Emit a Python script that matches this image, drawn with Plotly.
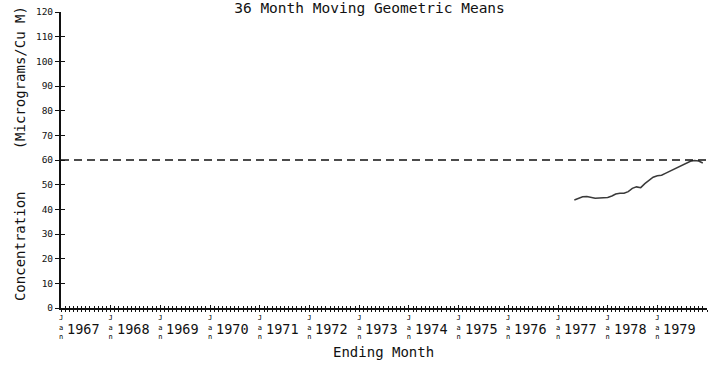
import plotly.graph_objects as go

# 36-month moving geometric mean concentrations, by ending month
MONTHS = [
    "1977-05-01", "1977-06-01", "1977-07-01", "1977-08-01", "1977-09-01", "1977-10-01",
    "1977-11-01", "1977-12-01", "1978-01-01", "1978-02-01", "1978-03-01", "1978-04-01",
    "1978-05-01", "1978-06-01", "1978-07-01", "1978-08-01", "1978-09-01", "1978-10-01",
    "1978-11-01", "1978-12-01", "1979-01-01", "1979-02-01", "1979-03-01", "1979-04-01",
    "1979-05-01", "1979-06-01", "1979-07-01", "1979-08-01", "1979-09-01", "1979-10-01",
    "1979-11-01", "1979-12-01",
]
GEO_MEANS = [
    43.8, 44.5, 45.1, 45.2, 44.8, 44.5,
    44.6, 44.7, 44.8, 45.4, 46.2, 46.5,
    46.5, 47.2, 48.5, 49.1, 48.8, 50.4,
    51.9, 53.0, 53.6, 53.8, 54.6, 55.4,
    56.2, 56.9, 57.8, 58.7, 59.5, 59.8,
    59.6, 58.8,
]
STANDARD = 60

YEARS = list(range(1967, 1980))
YEAR_TICKS = [f"{y}-01-01" for y in YEARS]
X_RANGE = ["1967-01-01", "1980-01-01"]
Y_RANGE = [0, 120]
Y_TICKS = list(range(0, 121, 10))

FONT = "DejaVu Sans Mono"
INK = "#111111"

fig = go.Figure()

fig.add_trace(go.Scatter(
    x=MONTHS, y=GEO_MEANS, mode="lines",
    line=dict(color="#3a3a3a", width=1.5),
    showlegend=False, hoverinfo="skip",
))
# invisible copy so the overlaid tick axes are drawn
fig.add_trace(go.Scatter(
    x=MONTHS, y=GEO_MEANS, mode="lines", xaxis="x2", yaxis="y2",
    line=dict(width=0), opacity=0, showlegend=False, hoverinfo="skip",
))

fig.add_hline(y=STANDARD, line=dict(color=INK, width=1.4, dash="8px,5px"))

fig.update_layout(
    width=715, height=367,
    margin=dict(l=61, r=8, t=6, b=59),
    paper_bgcolor="white", plot_bgcolor="white",
    font=dict(family=FONT, color=INK),
    title=dict(
        text="36 Month Moving Geometric Means",
        x=0.4776, xref="paper", xanchor="center",
        y=1 - 8 / 367, yref="container", yanchor="middle",
        font=dict(size=14.5, family=FONT, color=INK),
    ),
    xaxis=dict(
        type="date", range=X_RANGE, showgrid=False, zeroline=False,
        showline=True, linecolor=INK, linewidth=2,
        tickmode="array", tickvals=YEAR_TICKS,
        ticktext=["J<br>a<br>n"] * len(YEAR_TICKS),
        ticks="outside", ticklen=2, tickwidth=1.3, tickcolor=INK,
        tickfont=dict(size=7, family=FONT, color="#000000"),
        minor=dict(dtick="M1", tick0="1967-01-01", ticks="outside",
                   ticklen=2, tickwidth=1, tickcolor=INK),
    ),
    xaxis2=dict(
        type="date", overlaying="x", matches="x", anchor="y2",
        showgrid=False, zeroline=False, showline=False, showticklabels=False,
        tickmode="array", tickvals=YEAR_TICKS,
        ticks="inside", ticklen=3, tickwidth=1.3, tickcolor=INK,
        minor=dict(dtick="M1", tick0="1967-01-01", ticks="inside",
                   ticklen=2, tickwidth=1, tickcolor=INK),
    ),
    yaxis=dict(
        range=Y_RANGE, showgrid=False, zeroline=False,
        showline=True, linecolor=INK, linewidth=2,
        tickmode="array", tickvals=Y_TICKS,
        ticks="outside", ticklen=4, tickwidth=1.3, tickcolor=INK,
        tickfont=dict(size=9.5, family=FONT, color=INK),
    ),
    yaxis2=dict(
        range=Y_RANGE, overlaying="y", matches="y", anchor="x2", side="left",
        showgrid=False, zeroline=False, showline=False, showticklabels=False,
        tickmode="array", tickvals=Y_TICKS,
        ticks="inside", ticklen=4, tickwidth=1.3, tickcolor=INK,
    ),
)

# year labels beside each January tick
for y, tick in zip(YEARS, YEAR_TICKS):
    fig.add_annotation(
        x=tick, xref="x", y=-0.07, yref="paper",
        text=str(y), showarrow=False, xanchor="left", yanchor="middle",
        xshift=4, font=dict(size=13.5, family=FONT, color=INK),
    )

fig.add_annotation(
    x=0.5, xref="paper", y=-0.148, yref="paper",
    text="Ending Month", showarrow=False, xanchor="center", yanchor="middle",
    xshift=-1, font=dict(size=14, family=FONT, color=INK),
)

fig.add_annotation(
    x=0, xref="paper", y=0.52, yref="paper",
    text="Concentration\u00a0\u00a0\u00a0\u00a0\u00a0(Micrograms/Cu\u00a0M)",
    textangle=-90, showarrow=False, xanchor="center", yanchor="middle",
    xshift=-41, font=dict(size=14, family=FONT, color=INK),
)

fig.write_html("out.html")
